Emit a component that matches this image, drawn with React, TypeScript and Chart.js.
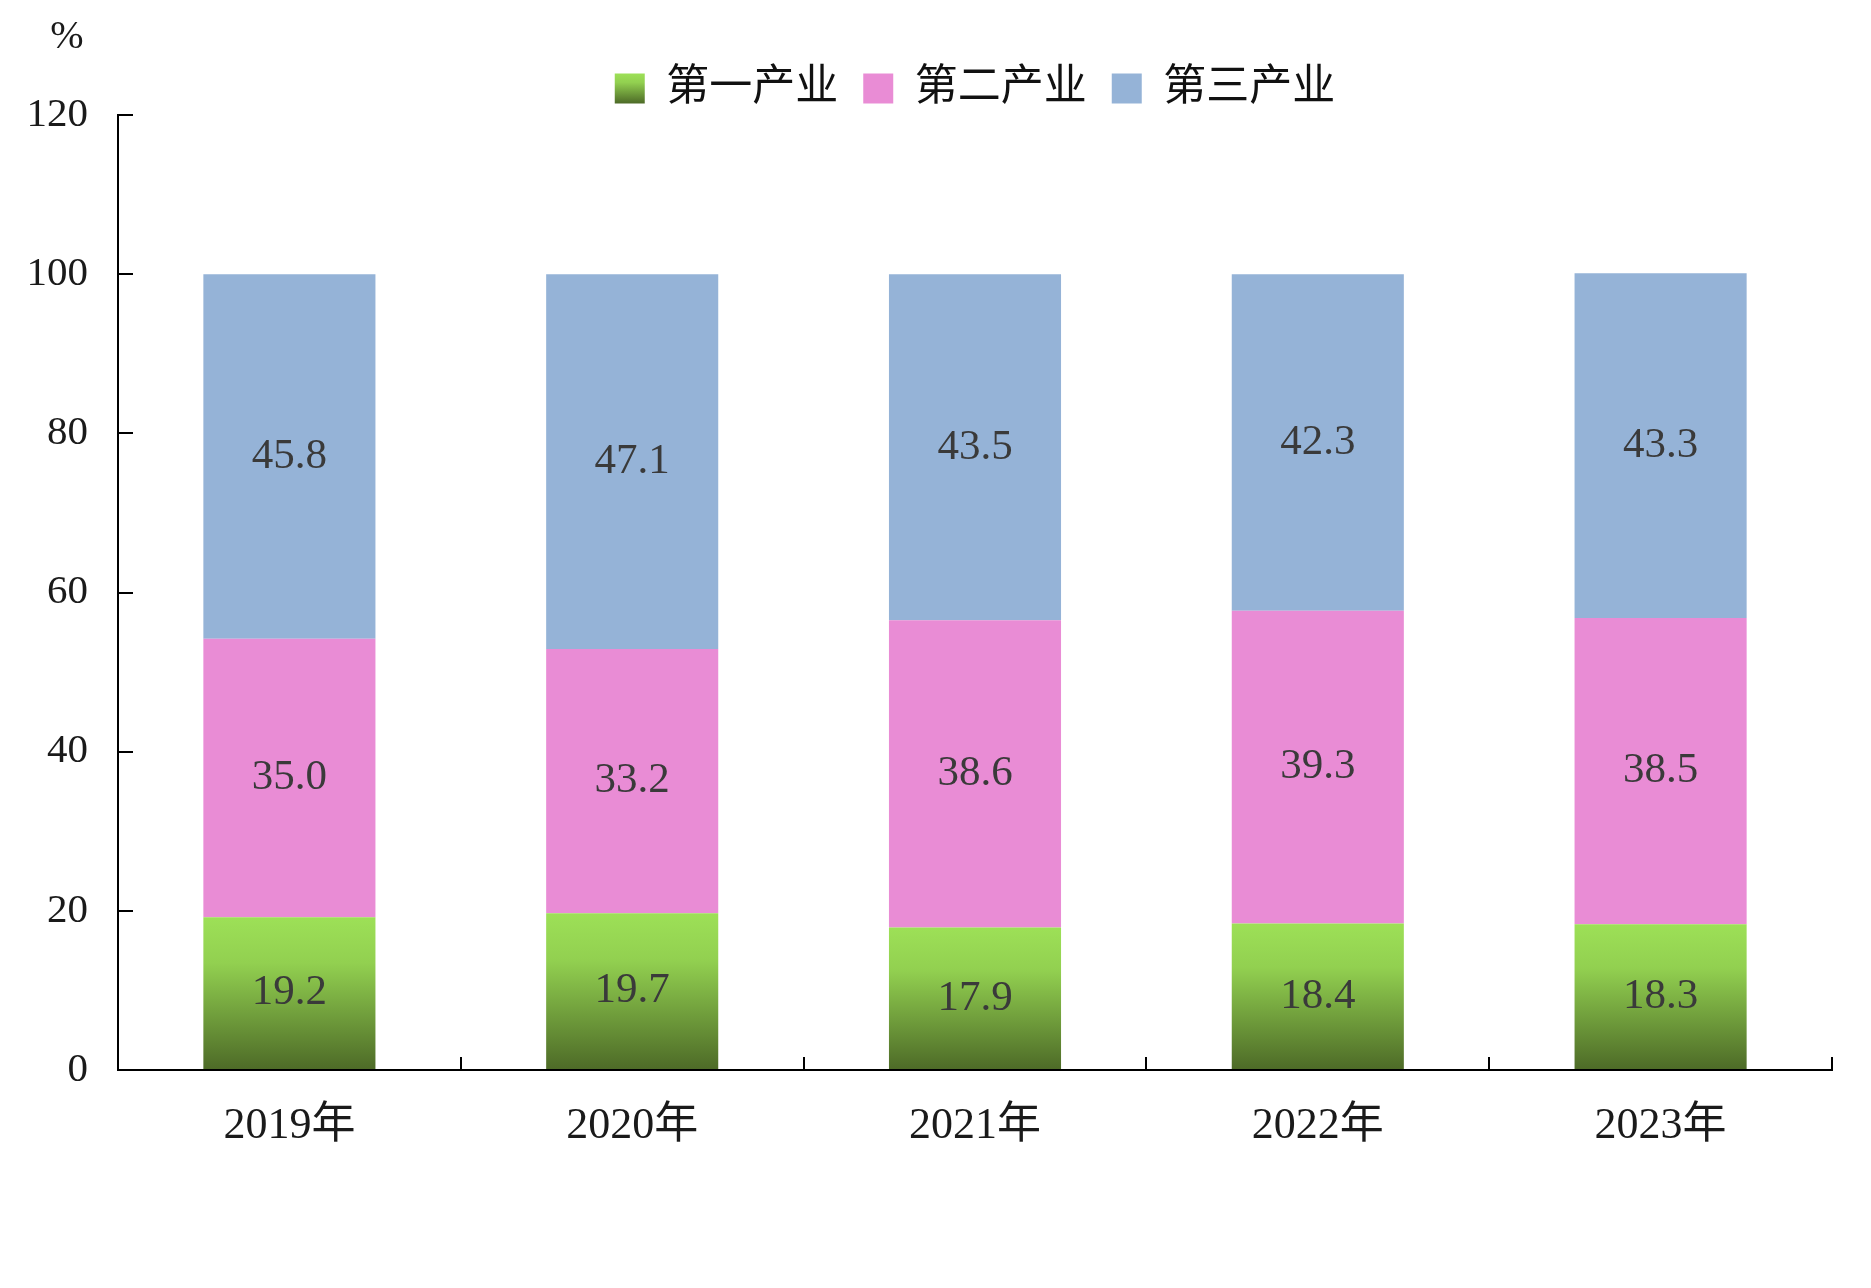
import { useEffect, useRef } from "react";
import { Chart, registerables } from "chart.js";

Chart.register(...registerables);

const years = ["2019年", "2020年", "2021年", "2022年", "2023年"];
const seriesNames = ["第一产业", "第二产业", "第三产业"];
const primary = [19.2, 19.7, 17.9, 18.4, 18.3];
const secondary = [35.0, 33.2, 38.6, 39.3, 38.5];
const tertiary = [45.8, 47.1, 43.5, 42.3, 43.3];
const yMax = 120;
const yStep = 20;

const FONT = '"Liberation Serif", "Times New Roman", "Noto Sans CJK SC", serif';
const GREEN = "#92d050";
const PINK = "#e98cd5";
const BLUE = "#95b3d7";

// green fill fades from bright at the top to dark at the bottom
const greenGradient = (ctx: CanvasRenderingContext2D, top: number, bottom: number) => {
  if (!Number.isFinite(top) || !Number.isFinite(bottom) || top === bottom) return GREEN;
  const g = ctx.createLinearGradient(0, top, 0, bottom);
  g.addColorStop(0, "#9de057");
  g.addColorStop(0.3, "#92d050");
  g.addColorStop(1, "#4d6a27");
  return g;
};

const greenFill = (c: any) => {
  const y = c.chart.scales?.y;
  if (!y || c.type !== "data" || !c.parsed) return GREEN;
  const top = y.getPixelForValue(c.parsed.y);
  const bottom = y.getPixelForValue(0);
  return greenGradient(c.chart.ctx, top, bottom);
};

// centre the legend over the plot area, and give its first box the same gradient
const legendLayout = {
  id: "legendLayout",
  afterLayout(chart: any) {
    const lg = chart.legend;
    const ca = chart.chartArea;
    if (!lg || !ca) return;
    const shift = (ca.left + ca.right) / 2 - (lg.left + lg.right) / 2;
    lg.left += shift;
    lg.right += shift;
    lg.top += 5;
    lg.bottom += 5;
  },
  beforeDraw(chart: any) {
    const lg = chart.legend;
    if (!lg || !lg.legendItems || !lg.legendItems[0]) return;
    const lab = chart.options.plugins.legend.labels;
    const boxTop = lg.top + lab.padding + Math.max((lab.font.size - lab.boxHeight) / 2, 0);
    lg.legendItems[0].fillStyle = greenGradient(chart.ctx, boxTop, boxTop + lab.boxHeight);
  },
};

const segmentLabels = {
  id: "segmentLabels",
  afterDatasetsDraw(chart: any) {
    const { ctx } = chart;
    ctx.save();
    ctx.font = `43px ${FONT}`;
    ctx.fillStyle = "#3a3a3a";
    ctx.textAlign = "center";
    ctx.textBaseline = "middle";
    chart.data.datasets.forEach((ds: any, i: number) => {
      const meta = chart.getDatasetMeta(i);
      meta.data.forEach((bar: any, j: number) => {
        const { x, y, base } = bar.getProps(["x", "y", "base"], true);
        ctx.fillText(Number(ds.data[j]).toFixed(1), x, (y + base) / 2);
      });
    });
    ctx.restore();
  },
};

const unitLabel = {
  id: "unitLabel",
  afterDraw(chart: any) {
    const { ctx } = chart;
    const ys = chart.scales.y;
    ctx.save();
    ctx.font = `40px ${FONT}`;
    ctx.fillStyle = "#1a1a1a";
    ctx.textAlign = "center";
    ctx.textBaseline = "middle";
    ctx.fillText("%", ys.right - 51, ys.top - 78);
    ctx.restore();
  },
};

export default function App() {
  const canvasRef = useRef<HTMLCanvasElement>(null);

  useEffect(() => {
    if (!canvasRef.current) return;
    const chart = new Chart(canvasRef.current, {
      type: "bar",
      data: {
        labels: years,
        datasets: [
          { label: seriesNames[0], data: primary, backgroundColor: greenFill, borderWidth: 0 },
          { label: seriesNames[1], data: secondary, backgroundColor: PINK, borderWidth: 0 },
          { label: seriesNames[2], data: tertiary, backgroundColor: BLUE, borderWidth: 0 },
        ],
      },
      options: {
        animation: false,
        responsive: true,
        maintainAspectRatio: false,
        layout: { padding: { top: 37, right: 39, left: 0, bottom: 0 } },
        datasets: { bar: { barPercentage: 0.502, categoryPercentage: 1 } },
        plugins: {
          tooltip: { enabled: false },
          legend: {
            position: "top",
            labels: {
              boxWidth: 30,
              boxHeight: 30,
              padding: 25,
              color: "#111",
              font: { size: 43, family: FONT },
            },
          },
        },
        scales: {
          x: {
            stacked: true,
            grid: {
              drawOnChartArea: false,
              drawTicks: true,
              tickLength: -13,
              color: "#000",
              lineWidth: 2,
              offset: true,
            },
            border: { display: true, color: "#000", width: 2 },
            ticks: { color: "#1a1a1a", padding: 43, font: { size: 44, family: FONT } },
            afterFit: (s: any) => {
              s.height = 218;
            },
          },
          y: {
            stacked: true,
            min: 0,
            max: yMax,
            grid: {
              drawOnChartArea: false,
              drawTicks: true,
              tickLength: -15,
              color: "#000",
              lineWidth: 2,
            },
            border: { display: true, color: "#000", width: 2 },
            ticks: { stepSize: yStep, color: "#1a1a1a", padding: 45, font: { size: 41, family: FONT } },
            afterFit: (s: any) => {
              s.width = 118;
            },
          },
        },
      },
      plugins: [legendLayout, segmentLabels, unitLabel],
    });
    return () => chart.destroy();
  }, []);

  return (
    <div style={{ position: "fixed", left: 0, top: 0, width: 1871, height: 1288, background: "#fff" }}>
      <canvas ref={canvasRef} />
    </div>
  );
}
